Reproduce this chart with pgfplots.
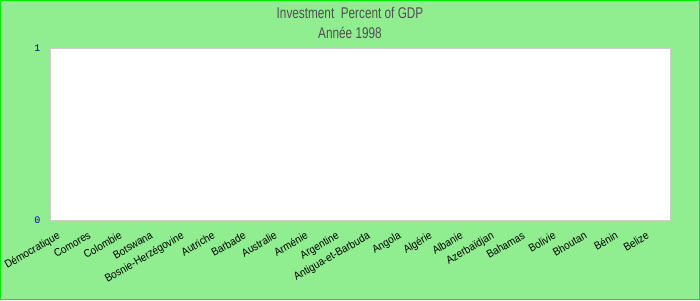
\documentclass[border=0pt]{standalone}
\usepackage{pgfplots}
\pgfplotsset{compat=1.18}
\usepackage{fontspec}
\setmainfont{Liberation Sans}
\newfontfamily\condfont[FakeStretch=0.76]{Liberation Sans}
\newfontfamily\labfont[FakeStretch=0.9]{Liberation Sans}
\newfontfamily\monofont{Liberation Mono}
\definecolor{bg}{HTML}{90EE90}
\definecolor{frame}{HTML}{00EE00}
\definecolor{titlegray}{HTML}{505050}
\definecolor{tickblue}{HTML}{0000AA}
\begin{document}
\begin{tikzpicture}[x=1pt,y=1pt]
\fill[bg] (0,0) rectangle (700,300);
\draw[frame,line width=1.2pt] (0.6,0.6) rectangle (699.4,299.4);
\node[titlegray,font=\condfont\fontsize{15.5}{17}\selectfont] at (350,287) {Investment\ \ Percent of GDP};
\node[titlegray,font=\condfont\fontsize{15.5}{17}\selectfont] at (350,267) {Année 1998};
\begin{axis}[
  at={(50pt,80pt)}, anchor=south west,
  scale only axis, width=620pt, height=172pt,
  axis background/.style={fill=white},
  axis line style={draw=black!20},
  xmin=-0.5, xmax=19.5, ymin=0, ymax=1,
  xtick={0,...,19},
  xticklabels={Démocratique,Comores,Colombie,Botswana,Bosnie-Herzégovine,Autriche,Barbade,Australie,Arménie,Argentine,Antigua-et-Barbuda,Angola,Algérie,Albanie,Azerbaïdjan,Bahamas,Bolivie,Bhoutan,Bénin,Belize},
  xticklabel style={rotate=30, anchor=north east, font=\labfont\fontsize{11}{11}\selectfont, inner sep=1pt, xshift=-12pt, yshift=-4pt},
  ytick={0,1},
  yticklabel style={font=\monofont\fontsize{10}{10}\selectfont, text=tickblue, xshift=-6pt},
  /pgf/number format/assume math mode=true,
  major tick length=0pt,
]
\addplot[draw=none, forget plot] coordinates {(0,0)};
\end{axis}
\end{tikzpicture}
\end{document}
